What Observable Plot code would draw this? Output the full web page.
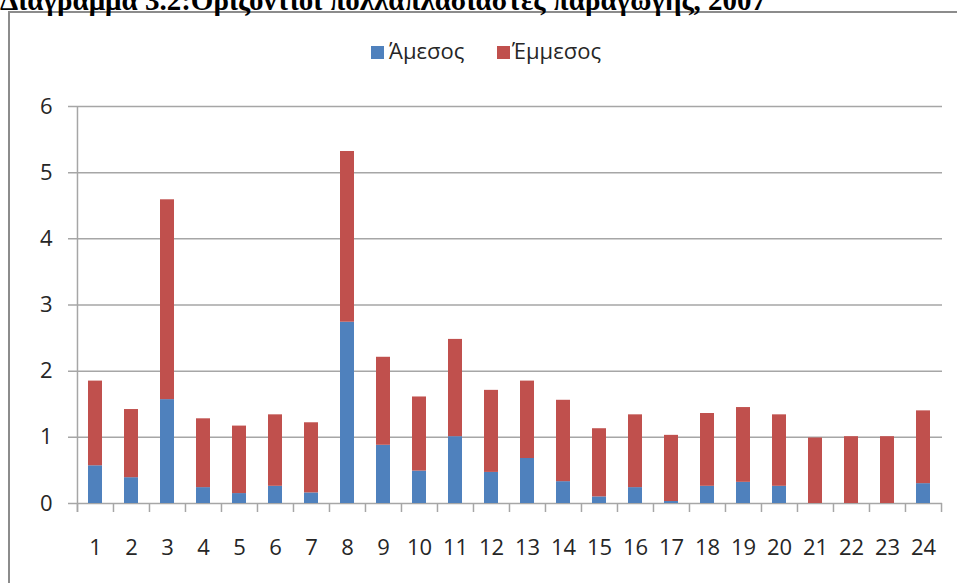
<!DOCTYPE html>
<html>
<head>
<meta charset="utf-8">
<script src="https://cdn.jsdelivr.net/npm/d3@7"></script>
<script src="https://cdn.jsdelivr.net/npm/@observablehq/plot@0.6"></script>
<style>
  html, body { margin: 0; padding: 0; background: #fff; overflow: hidden; }
  #wrap { position: relative; width: 957px; height: 583px; overflow: hidden; background: #fff; }
  #border { position: absolute; left: 8px; top: 11px; width: 1000px; height: 1000px; border: 2px solid #8c8c8c; box-sizing: border-box; }
  #title { position: absolute; left: 0px; top: -14px; font-family: "Liberation Serif", "Times New Roman", serif; font-weight: bold; font-size: 29px; line-height: 29px; color: #000; white-space: nowrap; }
  .sw { position: absolute; width: 13px; height: 13px; }
  .lt { position: absolute; font-family: "Open Sans", sans-serif; font-size: 22px; line-height: 22px; color: #262626; white-space: nowrap; }
  #chart { position: absolute; left: 0; top: 0; }
</style>
</head>
<body>
<div id="wrap">
  <div id="border"></div>
  <div id="title">Διάγραμμα 3.2:Οριζόντιοι πολλαπλασιαστές παραγωγής, 2007</div>
  <div id="legend"></div>
  <div id="chart"></div>
</div>
<script>
const sectors = ["1","2","3","4","5","6","7","8","9","10","11","12","13","14","15","16","17","18","19","20","21","22","23","24"];
const seriesNames = ["Άμεσος", "Έμμεσος"];
const seriesColors = ["#4F81BD", "#C0504D"];
const directValues = [0.57,0.39,1.57,0.24,0.15,0.26,0.16,2.74,0.88,0.49,1.01,0.47,0.68,0.33,0.10,0.24,0.03,0.26,0.32,0.26,0,0,0,0.30];
const indirectValues = [1.28,1.03,3.02,1.04,1.02,1.08,1.06,2.58,1.33,1.12,1.47,1.24,1.17,1.23,1.03,1.10,1.00,1.10,1.13,1.08,0.99,1.01,1.01,1.10];
const yTicks = [0,1,2,3,4,5,6];

const rows = [];
sectors.forEach((s, i) => rows.push({sector: s, series: seriesNames[0], value: directValues[i]}));
sectors.forEach((s, i) => rows.push({sector: s, series: seriesNames[1], value: indirectValues[i]}));

// legend
const legend = document.getElementById("legend");
const legendPos = [{sw: 371, tx: 389}, {sw: 497, tx: 512}];
seriesNames.forEach((n, i) => {
  const sw = document.createElement("div");
  sw.className = "sw";
  sw.style.left = legendPos[i].sw + "px";
  sw.style.top = "46px";
  sw.style.background = seriesColors[i];
  legend.appendChild(sw);
  const t = document.createElement("div");
  t.className = "lt";
  t.style.left = legendPos[i].tx + "px";
  t.style.top = "39px";
  t.textContent = n;
  legend.appendChild(t);
});

const W = 957, H = 583, mL = 77, mR = 15, mT = 106, mB = 80;
const half = (W - mL - mR) / sectors.length / 2;
const gridColor = "#a6a6a6";

const chart = Plot.plot({
  width: W, height: H,
  marginLeft: mL, marginRight: mR, marginTop: mT, marginBottom: mB,
  style: {fontFamily: "Open Sans, sans-serif", fontSize: "22px", color: "#262626", background: "transparent"},
  x: {domain: sectors, paddingInner: 0.6, paddingOuter: 0.3, label: null},
  y: {domain: [0, 6], label: null},
  color: {domain: seriesNames, range: seriesColors},
  marks: [
    Plot.ruleY(yTicks, {y: d => d, stroke: gridColor, strokeWidth: 1.5, insetLeft: -9}),
    Plot.barY(rows, {x: "sector", y: "value", fill: "series"}),
    Plot.ruleX(sectors, {x: d => d, dx: -half, stroke: gridColor, strokeWidth: 1.5, insetTop: H - mT - mB, insetBottom: -9}),
    Plot.ruleX([sectors[sectors.length - 1]], {x: d => d, dx: half, stroke: gridColor, strokeWidth: 1.5, insetTop: H - mT - mB, insetBottom: -9}),
    Plot.ruleX([sectors[0]], {x: d => d, dx: -half, stroke: gridColor, strokeWidth: 1.5, insetBottom: -9}),
    Plot.axisX({tickSize: 0, tickPadding: 36, label: null}),
    Plot.axisY({ticks: yTicks, tickSize: 0, tickPadding: 25, label: null, tickFormat: d => String(d)})
  ]
});
document.getElementById("chart").appendChild(chart);
</script>
</body>
</html>
